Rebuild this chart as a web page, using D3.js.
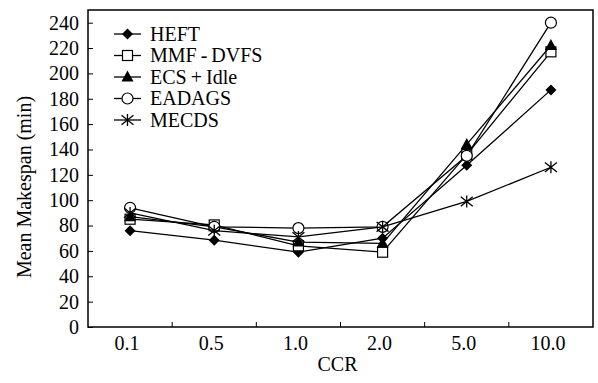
<!DOCTYPE html>
<html>
<head>
<meta charset="utf-8">
<script src="https://cdn.jsdelivr.net/npm/d3@7"></script>
<style>
  body { margin: 0; background: #fff; }
  text { font-family: "Liberation Serif", "Times New Roman", serif; fill: #000; }
</style>
</head>
<body>
<svg id="chart" width="598" height="383"></svg>
<script>
const categories = ['0.1', '0.5', '1.0', '2.0', '5.0', '10.0'];
const yTicks = [0, 20, 40, 60, 80, 100, 120, 140, 160, 180, 200, 220, 240];

const heft = [76, 68.5, 59, 70, 127.5, 187];
const mmfDvfs = [85, 80.5, 64, 59, 136, 217];
const ecsIdle = [87, 79, 67, 66, 144, 222];
const eadags = [94, 79, 78, 79, 135, 240];
const mecds = [90, 76, 71, 79, 99, 126];

const seriesNames = ['HEFT', 'MMF\u2009-\u2009DVFS', 'ECS\u2009+\u2009Idle', 'EADAGS', 'MECDS'];
const seriesValues = [heft, mmfDvfs, ecsIdle, eadags, mecds];
const seriesMarkers = ['diamond', 'square', 'triangle', 'circle', 'asterisk'];

const margin = { top: 10, right: 5, bottom: 56, left: 88 };
const width = 598, height = 383;
const svg = d3.select('#chart');

const x = d3.scaleBand().domain(categories)
  .range([margin.left, width - margin.right]);
const y = d3.scaleLinear().domain([0, 250])
  .range([height - margin.bottom, margin.top]);

// frame
svg.append('rect')
  .attr('x', margin.left).attr('y', margin.top)
  .attr('width', width - margin.right - margin.left)
  .attr('height', height - margin.bottom - margin.top)
  .attr('fill', 'none').attr('stroke', '#000').attr('stroke-width', 1.5);

// y axis, ticks inside
const yAxis = svg.append('g')
  .attr('transform', `translate(${margin.left},0)`)
  .call(d3.axisRight(y).tickValues(yTicks).tickSize(5).tickFormat(d3.format('d')));
yAxis.select('.domain').remove();
yAxis.selectAll('line').attr('stroke', '#000');
yAxis.selectAll('text')
  .attr('x', -9).attr('text-anchor', 'end')
  .style('font-size', '20px');

// x axis: ticks at band boundaries pointing up
const boundaries = categories.slice(1).map((c) => x(c));
svg.append('g').selectAll('line')
  .data(boundaries)
  .join('line')
  .attr('x1', (d) => d).attr('x2', (d) => d)
  .attr('y1', height - margin.bottom).attr('y2', height - margin.bottom - 5)
  .attr('stroke', '#000');
svg.append('g').selectAll('text')
  .data(categories)
  .join('text')
  .attr('x', (d) => x(d) + x.bandwidth() / 2 - 3)
  .attr('y', 350)
  .attr('text-anchor', 'middle')
  .style('font-size', '20px')
  .text((d) => d);

svg.append('text')
  .attr('x', (margin.left + width - margin.right) / 2 - 3)
  .attr('y', 371)
  .attr('text-anchor', 'middle')
  .style('font-size', '20px')
  .text('CCR');

svg.append('text')
  .attr('transform', 'translate(31,187) rotate(-90)')
  .attr('text-anchor', 'middle')
  .style('font-size', '20px')
  .text('Mean Makespan (min)');

function drawMarker(g, type, cx, cy) {
  if (type === 'diamond') {
    g.append('path').attr('d', `M${cx},${cy - 5.5}L${cx + 5.5},${cy}L${cx},${cy + 5.5}L${cx - 5.5},${cy}Z`)
      .attr('fill', '#000');
  } else if (type === 'square') {
    g.append('rect').attr('x', cx - 5).attr('y', cy - 5).attr('width', 10).attr('height', 10)
      .attr('fill', '#fff').attr('stroke', '#000').attr('stroke-width', 1.2);
  } else if (type === 'triangle') {
    g.append('path').attr('d', `M${cx},${cy - 6.5}L${cx + 6},${cy + 4.5}L${cx - 6},${cy + 4.5}Z`)
      .attr('fill', '#000');
  } else if (type === 'circle') {
    g.append('circle').attr('cx', cx).attr('cy', cy).attr('r', 5.5)
      .attr('fill', '#fff').attr('stroke', '#000').attr('stroke-width', 1.2);
  } else {
    const s = 6;
    g.append('path')
      .attr('d', `M${cx},${cy - s}L${cx},${cy + s}M${cx - s},${cy - s * 0.8}L${cx + s},${cy + s * 0.8}` +
        `M${cx - s},${cy + s * 0.8}L${cx + s},${cy - s * 0.8}`)
      .attr('stroke', '#000').attr('stroke-width', 1.3).attr('fill', 'none');
  }
}

const line = d3.line()
  .x((d, i) => x(categories[i]) + x.bandwidth() / 2)
  .y((d) => y(d));

seriesValues.forEach((vals, k) => {
  const g = svg.append('g');
  g.append('path').datum(vals)
    .attr('d', line)
    .attr('fill', 'none').attr('stroke', '#000').attr('stroke-width', 1.3);
  vals.forEach((v, i) => {
    drawMarker(g, seriesMarkers[k], x(categories[i]) + x.bandwidth() / 2, y(v));
  });
});

// legend
const legend = svg.append('g');
seriesNames.forEach((name, k) => {
  const ly = 34 + k * 21.5;
  legend.append('line')
    .attr('x1', 114).attr('x2', 141).attr('y1', ly).attr('y2', ly)
    .attr('stroke', '#000').attr('stroke-width', 1.3);
  drawMarker(legend, seriesMarkers[k], 127.5, ly);
  legend.append('text')
    .attr('x', 150).attr('y', ly + 6.5)
    .style('font-size', '20px')
    .text(name);
});
</script>
</body>
</html>
